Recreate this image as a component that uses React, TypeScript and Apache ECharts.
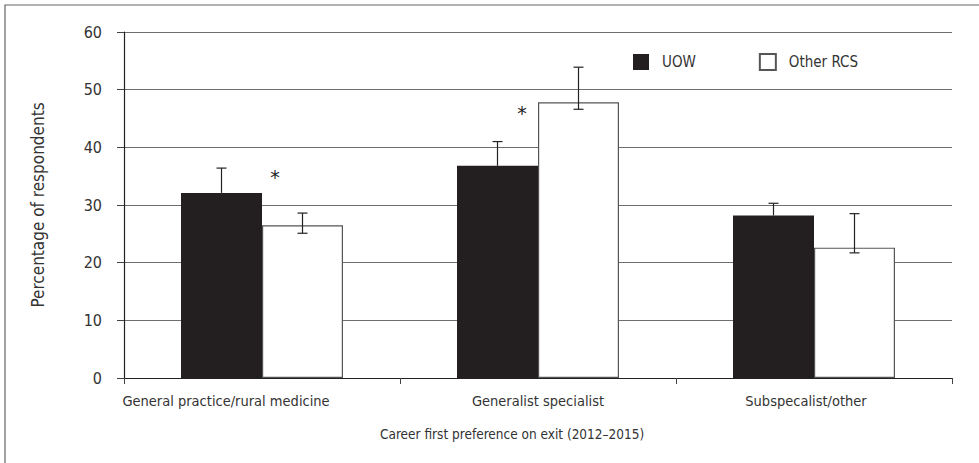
import React, { useEffect, useRef } from "react";
import * as echarts from "echarts";

// Career first preference on exit, 2012–2015 (% of respondents)
const categories = [
  "General practice/rural medicine",
  "Generalist specialist",
  "Subspecalist/other",
];
const seriesNames = ["UOW", "Other RCS"];
const uowValues = [32.1, 36.8, 28.2];
const uowUpper = [36.4, 41.0, 30.3];
const otherValues = [26.5, 47.8, 22.6];
const otherLower = [25.1, 46.6, 21.7];
const otherUpper = [28.6, 53.9, 28.5];
// significance markers: category index, height (in %), horizontal nudge
const sigMarks = [
  { cat: 0, value: 34.8, dx: 13 },
  { cat: 1, value: 45.9, dx: -16 },
];
const yMin = 0;
const yMax = 60;
const yStep = 10;

const FONT = "'Liberation Sans Narrow', 'DejaVu Sans Condensed', Roboto, sans-serif";
const TEXT = "#333333";
const BAR_W = 81;

export default function App() {
  const ref = useRef<HTMLDivElement>(null);

  useEffect(() => {
    if (!ref.current) return;
    const chart = echarts.init(ref.current, null, { renderer: "svg" });

    const errorBar = (side: number, withLower: boolean) =>
      (params: any, api: any) => {
        const cat = api.value(0);
        const lo = api.value(1);
        const hi = api.value(2);
        const top = api.coord([cat, hi]);
        const bot = api.coord([cat, lo]);
        const x = top[0] + side * (BAR_W / 2);
        const cap = 5;
        const style = { stroke: "#222", lineWidth: 1.2 };
        const children: any[] = [
          { type: "line", shape: { x1: x, y1: top[1], x2: x, y2: bot[1] }, style },
          { type: "line", shape: { x1: x - cap, y1: top[1], x2: x + cap, y2: top[1] }, style },
        ];
        if (withLower) {
          children.push({
            type: "line",
            shape: { x1: x - cap, y1: bot[1], x2: x + cap, y2: bot[1] },
            style,
          });
        }
        return { type: "group", children };
      };

    chart.setOption({
      animation: false,
      textStyle: { fontFamily: FONT, color: TEXT },
      grid: { left: 124, right: 27, top: 32, bottom: 85 },
      legend: {
        data: seriesNames,
        left: 628,
        top: 48,
        itemWidth: 16,
        itemHeight: 16,
        itemGap: 63,
        icon: "rect",
        textStyle: { fontFamily: FONT, fontSize: 15, color: TEXT, padding: [0, 0, 0, 8] },
      },
      xAxis: {
        type: "category",
        data: categories.map((c, i) => ({
          value: c,
          textStyle: { padding: i === 0 ? [0, 72, 0, 0] : i === 2 ? [0, 16, 0, 0] : 0 },
        })),
        axisLine: { lineStyle: { color: "#222", width: 1.2 } },
        axisTick: { show: true, length: 6, lineStyle: { color: "#444" } },
        axisLabel: { interval: 0, fontFamily: FONT, fontSize: 14.5, color: TEXT, margin: 15 },
      },
      yAxis: {
        type: "value",
        min: yMin,
        max: yMax,
        interval: yStep,
        name: "Percentage of respondents",
        nameLocation: "middle",
        nameGap: 78,
        nameTextStyle: { fontFamily: FONT, fontSize: 17, color: TEXT },
        axisLine: { show: true, lineStyle: { color: "#222", width: 1.2 } },
        axisTick: { show: true, length: 7, lineStyle: { color: "#444" } },
        axisLabel: { fontFamily: FONT, fontSize: 16, color: TEXT, margin: 22 },
        splitLine: { lineStyle: { color: "#6e6e6e", width: 1.2 } },
      },
      series: [
        {
          name: seriesNames[0],
          type: "bar",
          data: uowValues,
          barWidth: BAR_W,
          barGap: "0%",
          itemStyle: { color: "#231f20", borderColor: "#231f20", borderWidth: 0 },
        },
        {
          name: seriesNames[1],
          type: "bar",
          data: otherValues,
          barWidth: BAR_W,
          barGap: "0%",
          itemStyle: { color: "#ffffff", borderColor: "#555", borderWidth: 1.2 },
        },
        {
          type: "custom",
          z: 5,
          renderItem: errorBar(-1, false),
          data: uowValues.map((v, i) => [i, v, uowUpper[i]]),
          silent: true,
        },
        {
          type: "custom",
          z: 5,
          renderItem: errorBar(1, true),
          data: otherValues.map((v, i) => [i, otherLower[i], otherUpper[i]]),
          silent: true,
        },
        {
          type: "custom",
          z: 6,
          silent: true,
          itemStyle: { color: "#222" },
          data: sigMarks.map((m) => [m.cat, m.value, m.dx]),
          renderItem: (params: any, api: any) => {
            const p = api.coord([api.value(0), api.value(1)]);
            return {
              type: "text",
              style: {
                text: "*",
                x: p[0] + api.value(2),
                y: p[1],
                align: "center",
                verticalAlign: "middle",
                fontSize: 19,
                fontFamily: "'DejaVu Sans', sans-serif",
                fill: "#222",
              },
            };
          },
        },
      ],
      graphic: [
        {
          type: "rect",
          shape: { x: 5, y: 5, width: 1000, height: 500 },
          style: { fill: "none", stroke: "#666", lineWidth: 1.2 },
          silent: true,
          z: -1,
        },
        {
          type: "text",
          left: 380,
          top: 427,
          style: {
            text: "Career first preference on exit (2012–2015)",
            fontFamily: FONT,
            fontSize: 13.5,
            fill: TEXT,
          },
        },
      ],
    });

    return () => chart.dispose();
  }, []);

  return <div ref={ref} style={{ width: 979, height: 463, position: "absolute", left: 0, top: 0 }} />;
}
